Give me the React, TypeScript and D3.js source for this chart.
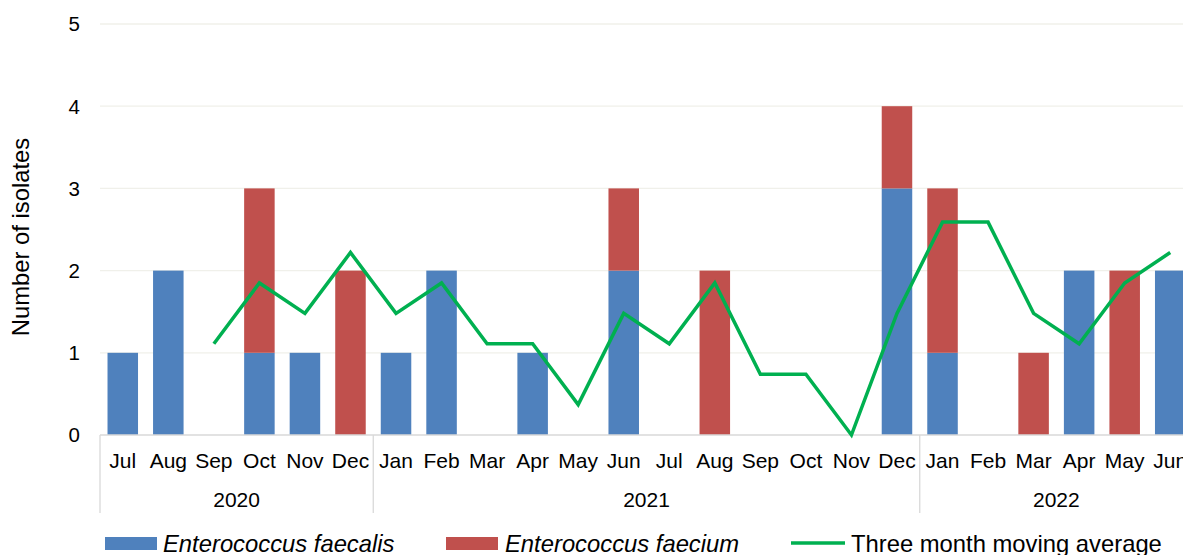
import React from "react";
import * as d3 from "d3";

const months = ["Jul","Aug","Sep","Oct","Nov","Dec","Jan","Feb","Mar","Apr","May","Jun","Jul","Aug","Sep","Oct","Nov","Dec","Jan","Feb","Mar","Apr","May","Jun"];
const years = [
  { label: "2020", start: 0, end: 6 },
  { label: "2021", start: 6, end: 18 },
  { label: "2022", start: 18, end: 24 },
];
const faecalis = [1,2,0,1,1,0,1,2,0,1,0,2,0,0,0,0,0,3,1,0,0,2,0,2];
const faecium = [0,0,0,2,0,2,0,0,0,0,0,1,0,2,0,0,0,1,2,0,1,0,2,0];
const movingAvg: (number | null)[] = [null,null,1.11,1.85,1.48,2.22,1.48,1.85,1.11,1.11,0.37,1.48,1.11,1.85,0.74,0.74,0,1.48,2.59,2.59,1.48,1.11,1.85,2.22];
const yTicks = [0,1,2,3,4,5];

const W = 1183, H = 555;
const left = 100, right = 1193, top = 24, bottom = 435;
const font = "'Liberation Sans', Arial, sans-serif";

export default function App() {
  const x = d3.scaleBand<number>().domain(months.map((_, i) => i)).range([left, right]).paddingInner(0.33).paddingOuter(0.165);
  const step = (right - left) / months.length;
  const y = d3.scaleLinear().domain([0, 5]).range([bottom, top]);
  const cx = (i: number) => left + step * (i + 0.5);
  const line = d3.line<[number, number | null]>()
    .defined(d => d[1] !== null)
    .x(d => cx(d[0]))
    .y(d => y(d[1] as number));
  const lineData: [number, number | null][] = movingAvg.map((v, i) => [i, v]);
  const bw = x.bandwidth();

  return (
    <svg width={W} height={H} style={{ position: "absolute", left: 0, top: 0, display: "block" }} fontFamily={font}>
      <rect x={0} y={0} width={W} height={H} fill="#fff" />
      {yTicks.filter(t => t > 0).map(t => (
        <line key={t} x1={left} x2={W} y1={y(t)} y2={y(t)} stroke="#f0f0ea" strokeWidth={1.3} />
      ))}
      {yTicks.map(t => (
        <text key={t} x={80} y={y(t)} dy="0.36em" textAnchor="end" fontSize={20.5} fill="#000">{t}</text>
      ))}
      <text transform={`translate(29,237) rotate(-90)`} textAnchor="middle" fontSize={23.8} fill="#000">Number of isolates</text>
      {months.map((m, i) => (
        <g key={i}>
          <rect x={cx(i) - bw / 2} y={y(faecalis[i])} width={bw} height={bottom - y(faecalis[i])} fill="#4F81BD" />
          <rect x={cx(i) - bw / 2} y={y(faecalis[i] + faecium[i])} width={bw} height={y(faecalis[i]) - y(faecalis[i] + faecium[i])} fill="#C0504D" />
        </g>
      ))}
      <line x1={left} x2={W} y1={bottom} y2={bottom} stroke="#d9d9d9" strokeWidth={1.3} />
      {years.map(yr => (
        <line key={yr.label} x1={left + step * yr.start} x2={left + step * yr.start} y1={bottom} y2={513} stroke="#d9d9d9" strokeWidth={1.3} />
      ))}
      {months.map((m, i) => (
        <text key={i} x={cx(i)} y={468} textAnchor="middle" fontSize={21} fill="#000">{m}</text>
      ))}
      {years.map(yr => (
        <text key={yr.label} x={left + step * (yr.start + yr.end) / 2} y={507} textAnchor="middle" fontSize={21} fill="#000">{yr.label}</text>
      ))}
      <path d={line(lineData) || ""} fill="none" stroke="#00B050" strokeWidth={3.5} strokeLinejoin="miter" />
      <g fontSize={23.8} fill="#000">
        <rect x={105} y={537} width={52} height={13} fill="#4F81BD" />
        <text x={163} y={552} fontStyle="italic">Enterococcus faecalis</text>
        <rect x={446} y={537} width={52} height={13} fill="#C0504D" />
        <text x={505} y={552} fontStyle="italic">Enterococcus faecium</text>
        <line x1={791} x2={845} y1={543} y2={543} stroke="#00B050" strokeWidth={3.5} />
        <text x={851} y={552}>Three month moving average</text>
      </g>
    </svg>
  );
}
